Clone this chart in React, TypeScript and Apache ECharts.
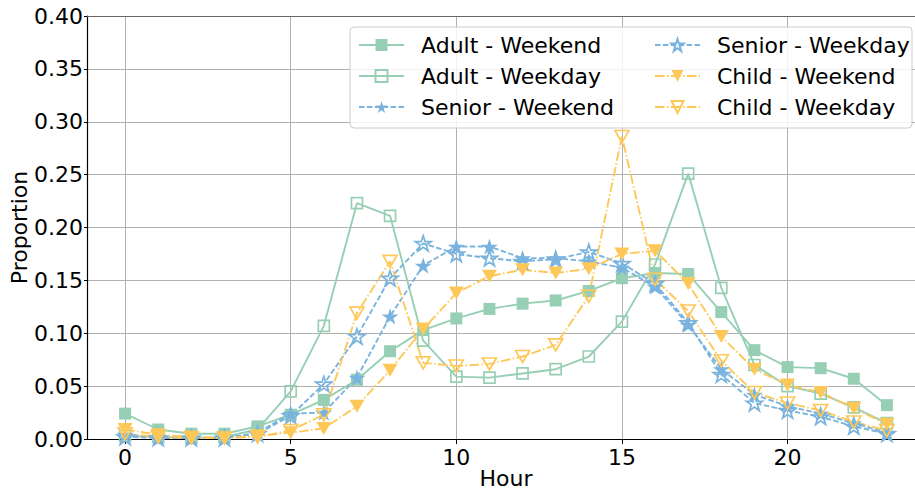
import React, { useEffect, useRef } from "react";
import * as echarts from "echarts";

const hours = [0,1,2,3,4,5,6,7,8,9,10,11,12,13,14,15,16,17,18,19,20,21,22,23];
const xTicks = [0, 5, 10, 15, 20];
const seriesNames = ["Adult - Weekend", "Adult - Weekday", "Senior - Weekend", "Senior - Weekday", "Child - Weekend", "Child - Weekday"];

const adultWeekend = [0.024, 0.009, 0.005, 0.005, 0.012, 0.023, 0.037, 0.056, 0.083, 0.103, 0.114, 0.123, 0.128, 0.131, 0.140, 0.152, 0.157, 0.156, 0.120, 0.084, 0.068, 0.067, 0.057, 0.032];
const adultWeekday = [0.003, 0.002, 0.001, 0.002, 0.009, 0.045, 0.107, 0.223, 0.211, 0.093, 0.059, 0.058, 0.062, 0.066, 0.078, 0.111, 0.165, 0.251, 0.143, 0.070, 0.050, 0.043, 0.030, 0.015];
const seniorWeekend = [0.004, 0.002, 0.001, 0.001, 0.006, 0.024, 0.025, 0.058, 0.116, 0.164, 0.182, 0.182, 0.171, 0.171, 0.168, 0.162, 0.144, 0.108, 0.066, 0.042, 0.031, 0.024, 0.015, 0.006];
const seniorWeekday = [0.002, 0.001, 0.001, 0.001, 0.005, 0.022, 0.052, 0.097, 0.152, 0.185, 0.175, 0.171, 0.168, 0.170, 0.177, 0.166, 0.147, 0.110, 0.061, 0.034, 0.027, 0.021, 0.012, 0.005];
const childWeekend = [0.009, 0.004, 0.002, 0.001, 0.003, 0.006, 0.010, 0.031, 0.065, 0.104, 0.138, 0.154, 0.160, 0.157, 0.161, 0.175, 0.178, 0.147, 0.097, 0.066, 0.051, 0.044, 0.029, 0.014];
const childWeekday = [0.005, 0.002, 0.001, 0.001, 0.002, 0.008, 0.023, 0.119, 0.168, 0.072, 0.069, 0.071, 0.078, 0.089, 0.135, 0.286, 0.151, 0.121, 0.074, 0.044, 0.034, 0.027, 0.016, 0.008];

const GREEN = "#97cfb5";
const BLUE = "#7ab4de";
const YELLOW = "#fec858";
const FONT = "DejaVu Sans";

function starPath(): string {
  const R = 50, r = 50 * 0.381966;
  const pts: string[] = [];
  for (let i = 0; i < 10; i++) {
    const rad = i % 2 === 0 ? R : r;
    const a = (Math.PI / 5) * i - Math.PI / 2;
    pts.push(`${(50 + rad * Math.cos(a)).toFixed(2)} ${(50 + rad * Math.sin(a)).toFixed(2)}`);
  }
  return "path://M" + pts.join(" L") + " Z";
}

export default function App() {
  const ref = useRef<HTMLDivElement>(null);
  useEffect(() => {
    if (!ref.current) return;
    const chart = echarts.init(ref.current, undefined, { renderer: "svg" });
    const STAR = starPath();
    const dashed = [5.5, 2.4];
    const dashDot = [9.6, 2.4, 1.5, 2.4];
    const mk = (name: string, vals: number[], color: string, lineType: any, symbol: string, size: any, filled: boolean, rotate = 0) => ({
      name,
      type: "line",
      data: hours.map((h, i) => [h, vals[i]]),
      symbol,
      symbolSize: size,
      symbolRotate: rotate,
      symbolKeepAspect: true,
      showAllSymbol: true,
      lineStyle: { color, width: 1.9, type: lineType },
      itemStyle: filled
        ? { color, borderColor: color, borderWidth: 0 }
        : { color: "rgba(255,255,255,0)", borderColor: color, borderWidth: 1.7 },
      emphasis: { disabled: true },
    });
    const series = [
      mk(seriesNames[0], adultWeekend, GREEN, "solid", "rect", 12, true),
      mk(seriesNames[1], adultWeekday, GREEN, "solid", "rect", 11, false),
      mk(seriesNames[2], seniorWeekend, BLUE, dashed, STAR, 17, true),
      mk(seriesNames[3], seniorWeekday, BLUE, dashed, STAR, 16, false),
      mk(seriesNames[4], childWeekend, YELLOW, dashDot, "triangle", [15, 13], true, 180),
      mk(seriesNames[5], childWeekday, YELLOW, dashDot, "triangle", [14, 12], false, 180),
    ];
    const legendCommon = {
      orient: "vertical",
      top: 28,
      padding: 5,
      itemWidth: 45,
      itemHeight: 15,
      itemGap: 7,
      selectedMode: false,
      textStyle: { fontFamily: FONT, fontSize: 22, color: "#000", lineHeight: 24, padding: [0, 0, 0, 12] },
    };
    chart.setOption({
      animation: false,
      backgroundColor: "#fff",
      grid: { left: 87, top: 16, width: 838, height: 423, containLabel: false, outerBoundsMode: "none" },
      graphic: [
        {
          type: "rect",
          z: 3,
          shape: { x: 350, y: 27, width: 562, height: 101, r: 4 },
          style: { fill: "rgba(255,255,255,0.85)", stroke: "#cccccc", lineWidth: 1 },
        },
      ],
      legend: [
        { ...legendCommon, left: 353, data: seriesNames.slice(0, 3) },
        { ...legendCommon, left: 649, data: seriesNames.slice(3, 6) },
      ],
      xAxis: [
        {
          type: "value",
          min: -1.15,
          max: 24.15,
          name: "Hour",
          nameLocation: "middle",
          nameGap: 28,
          nameMoveOverlap: false,
          nameTextStyle: { fontFamily: FONT, fontSize: 22, color: "#000" },
          axisLine: { show: true, onZero: false, lineStyle: { color: "#000", width: 1.2 } },
          axisTick: { show: true, length: 5, customValues: xTicks, lineStyle: { color: "#000" } },
          axisLabel: { customValues: xTicks, fontFamily: FONT, fontSize: 22, color: "#000", margin: 7 },
          splitLine: { show: true, lineStyle: { color: "#b0b0b0", width: 1 } },
        },
        {
          type: "value",
          position: "top",
          min: -1.15,
          max: 24.15,
          axisLine: { show: true, onZero: false, lineStyle: { color: "#666", width: 1.2 } },
          axisTick: { show: false },
          axisLabel: { show: false },
          splitLine: { show: false },
        },
      ],
      yAxis: {
        type: "value",
        min: 0,
        max: 0.4,
        interval: 0.05,
        name: "Proportion",
        nameLocation: "middle",
        nameGap: 57,
        nameMoveOverlap: false,
        nameTextStyle: { fontFamily: FONT, fontSize: 22, color: "#000" },
        axisLine: { show: true, onZero: false, lineStyle: { color: "#000", width: 1.2 } },
        axisTick: { show: true, length: 3, lineStyle: { color: "#000" } },
        axisLabel: { fontFamily: FONT, fontSize: 22, color: "#000", margin: 4, formatter: (v: number) => v.toFixed(2) },
        splitLine: { show: true, lineStyle: { color: "#b0b0b0", width: 1 } },
      },
      series,
    });
    return () => chart.dispose();
  }, []);
  return <div ref={ref} style={{ width: 915, height: 490, position: "absolute", left: 0, top: 0 }} />;
}
